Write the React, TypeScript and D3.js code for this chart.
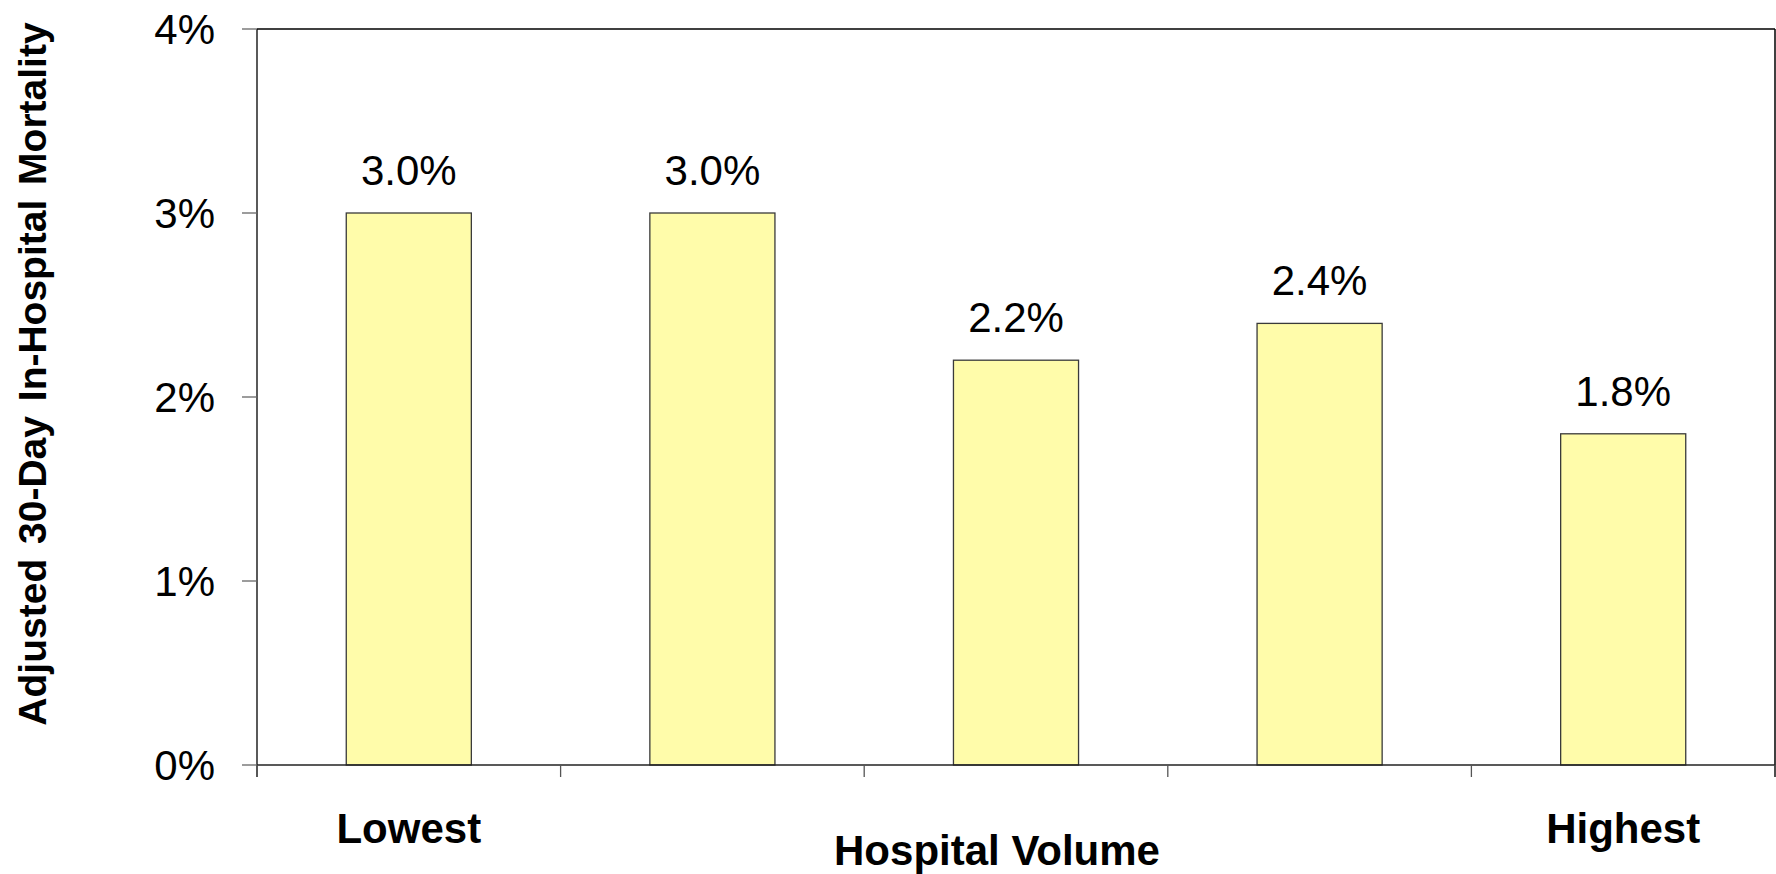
import React from "react";
import * as d3 from "d3";

// Hospital volume quintiles, lowest to highest
const quintiles = ["Q1", "Q2", "Q3", "Q4", "Q5"];
const quintileLabels = ["Lowest", "", "", "", "Highest"];
const mortality = [3.0, 3.0, 2.2, 2.4, 1.8];
const yTicks = [0, 1, 2, 3, 4];

const W = 1776;
const H = 874;
const M = { left: 257, right: 1775, top: 29, bottom: 765 };

const FONT = "'Liberation Sans', Arial, Helvetica, sans-serif";

export default function App() {
  const x = d3
    .scaleBand<string>()
    .domain(quintiles)
    .range([M.left, M.right])
    .paddingInner(0.588)
    .paddingOuter(0.294);
  const y = d3.scaleLinear().domain([0, 4]).range([M.bottom, M.top]);
  const step = x.step();
  const boundaries = d3.range(quintiles.length + 1).map((i) => M.left + i * step);

  return (
    <svg
      width={W}
      height={H}
      style={{ position: "absolute", left: 0, top: 0, background: "#fff" }}
      fontFamily={FONT}
    >
      {/* bars */}
      {quintiles.map((q, i) => (
        <rect
          key={q}
          x={x(q)}
          y={y(mortality[i])}
          width={x.bandwidth()}
          height={y(0) - y(mortality[i])}
          fill="#FFFCAA"
          stroke="#3a3a3a"
          strokeWidth={1.3}
        />
      ))}

      {/* plot frame: top and right */}
      <line x1={M.left} x2={M.right} y1={M.top} y2={M.top} stroke="#000" strokeWidth={1.5} />
      <line x1={M.right} x2={M.right} y1={M.top} y2={M.bottom + 12} stroke="#000" strokeWidth={1.5} />

      {/* y axis */}
      <line x1={M.left} x2={M.left} y1={M.top} y2={M.bottom + 12} stroke="#000" strokeWidth={1.3} />
      {yTicks.map((t) => (
        <g key={t}>
          <line x1={M.left - 15} x2={M.left} y1={y(t)} y2={y(t)} stroke="#666" strokeWidth={1.3} />
          <text
            x={215}
            y={y(t) + 15}
            textAnchor="end"
            fontSize={42}
            fill="#000"
          >
            {d3.format(".0%")(t / 100)}
          </text>
        </g>
      ))}

      {/* x axis */}
      <line x1={M.left} x2={M.right} y1={M.bottom} y2={M.bottom} stroke="#222" strokeWidth={1.5} />
      {boundaries.map((bx, i) => (
        <line key={i} x1={bx} x2={bx} y1={M.bottom} y2={M.bottom + 12} stroke="#555" strokeWidth={1.3} />
      ))}

      {/* value labels */}
      {quintiles.map((q, i) => (
        <text
          key={q}
          x={(x(q) as number) + x.bandwidth() / 2}
          y={y(mortality[i]) - 28}
          textAnchor="middle"
          fontSize={42}
          fill="#000"
        >
          {d3.format(".1f")(mortality[i]) + "%"}
        </text>
      ))}

      {/* category labels */}
      {quintiles.map((q, i) =>
        quintileLabels[i] ? (
          <text
            key={q}
            x={(x(q) as number) + x.bandwidth() / 2}
            y={843}
            textAnchor="middle"
            fontSize={42}
            fontWeight="bold"
            fill="#000"
          >
            {quintileLabels[i]}
          </text>
        ) : null
      )}

      {/* axis titles */}
      <text x={997} y={865} textAnchor="middle" fontSize={42} fontWeight="bold" fill="#000">
        Hospital Volume
      </text>
      <text
        transform={`translate(46,374) rotate(-90)`}
        textAnchor="middle"
        fontSize={39}
        fontWeight="bold"
        fill="#000"
        wordSpacing={4}
      >
        Adjusted 30-Day In-Hospital Mortality
      </text>
    </svg>
  );
}
